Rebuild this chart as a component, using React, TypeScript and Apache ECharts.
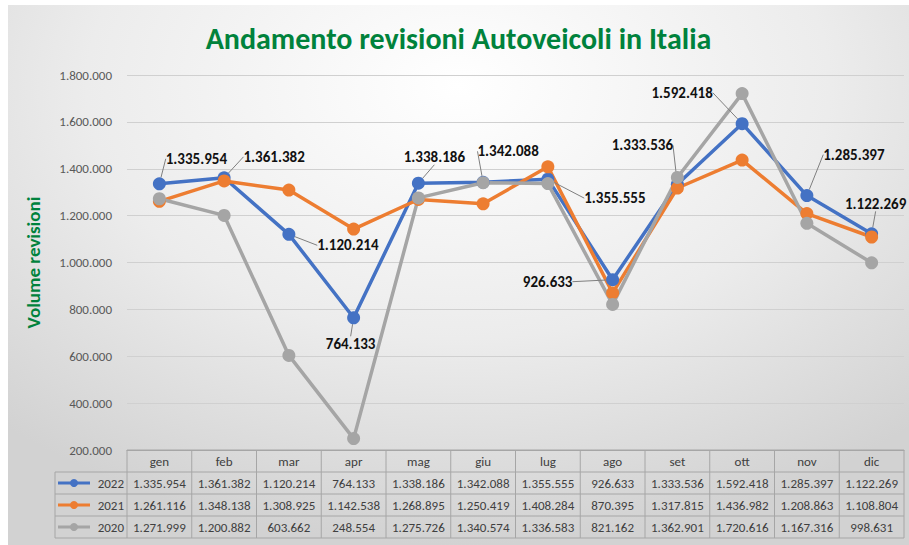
import React, { useEffect, useRef } from 'react';
import * as echarts from 'echarts';

const months = ['gen', 'feb', 'mar', 'apr', 'mag', 'giu', 'lug', 'ago', 'set', 'ott', 'nov', 'dic'];
const seriesNames = ['2022', '2021', '2020'];
const values2022 = [1335954, 1361382, 1120214, 764133, 1338186, 1342088, 1355555, 926633, 1333536, 1592418, 1285397, 1122269];
const values2021 = [1261116, 1348138, 1308925, 1142538, 1268895, 1250419, 1408284, 870395, 1317815, 1436982, 1208863, 1108804];
const values2020 = [1271999, 1200882, 603662, 248554, 1275726, 1340574, 1336583, 821162, 1362901, 1720616, 1167316, 998631];
const yMin = 200000;
const yMax = 1800000;
const yStep = 200000;

const titleText = 'Andamento revisioni Autoveicoli in Italia';
const yName = 'Volume revisioni';

// layout / style (not data)
const colors = ['#4472C4', '#ED7D31', '#A5A5A5'];
const green = '#00823C';
const FONT = 'Carlito, Lato, sans-serif';
const W = 901;
const H = 540;
const gridLeft = 119;
const gridRight = 5;
const gridTop = 70;
const gridBottom = 95;
const labelOffsets: [number, number][] = [
  [37, -6], [50, -2], [59, 30], [-3, 45], [16, -7], [25, -12],
  [67, 38], [-65, 21], [-35, -20], [-60, -12], [47, -22], [4, -11],
];

const fmt = (n: number) => String(n).replace(/\B(?=(\d{3})+(?!\d))/g, '.');

export default function App() {
  const ref = useRef<HTMLDivElement>(null);

  useEffect(() => {
    if (!ref.current) return;
    const chart = echarts.init(ref.current, null, { renderer: 'svg' });
    const allValues = [values2022, values2021, values2020];

    const plotBottom = H - gridBottom;
    const plotW = W - gridLeft - gridRight;
    const cw = plotW / months.length;
    const rowH = 22;
    const tableLeft = 47;
    const lineColor = '#a6a6a6';
    const textColor = '#404040';
    const graphics: any[] = [];

    for (let r = 0; r <= 4; r++) {
      const y = plotBottom + r * rowH;
      graphics.push({
        type: 'line',
        silent: true,
        shape: { x1: r === 0 ? gridLeft : tableLeft, y1: y, x2: W - gridRight, y2: y },
        style: { stroke: lineColor, lineWidth: 1 },
      });
    }
    graphics.push({
      type: 'line',
      silent: true,
      shape: { x1: tableLeft, y1: plotBottom + rowH, x2: tableLeft, y2: plotBottom + 4 * rowH },
      style: { stroke: lineColor, lineWidth: 1 },
    });
    for (let k = 0; k <= months.length; k++) {
      const x = gridLeft + k * cw;
      graphics.push({
        type: 'line',
        silent: true,
        shape: { x1: x, y1: plotBottom, x2: x, y2: plotBottom + 4 * rowH },
        style: { stroke: lineColor, lineWidth: 1 },
      });
    }
    seriesNames.forEach((name, si) => {
      const cy = plotBottom + rowH * (si + 1) + rowH / 2;
      graphics.push({
        type: 'line',
        silent: true,
        shape: { x1: tableLeft + 3, y1: cy, x2: tableLeft + 35, y2: cy },
        style: { stroke: colors[si], lineWidth: 3 },
      });
      graphics.push({
        type: 'circle',
        silent: true,
        shape: { cx: tableLeft + 19, cy, r: 4 },
        style: { fill: colors[si] },
      });
      graphics.push({
        type: 'text',
        silent: true,
        style: {
          text: name,
          x: gridLeft - 3,
          y: cy,
          align: 'right',
          verticalAlign: 'middle',
          fill: textColor,
          font: `13px ${FONT}`,
        },
      });
      allValues[si].forEach((v, i) => {
        graphics.push({
          type: 'text',
          silent: true,
          style: {
            text: fmt(v),
            x: gridLeft + (i + 0.5) * cw,
            y: cy,
            align: 'center',
            verticalAlign: 'middle',
            fill: textColor,
            font: `13px ${FONT}`,
          },
        });
      });
    });

    chart.setOption({
      animation: false,
      title: {
        text: titleText,
        left: 'center',
        top: 13,
        textStyle: { color: green, fontWeight: 'bold', fontSize: 30, fontFamily: FONT },
      },
      grid: { left: gridLeft, right: gridRight, top: gridTop, bottom: gridBottom },
      xAxis: {
        type: 'category',
        data: months,
        boundaryGap: true,
        axisLine: { show: true, lineStyle: { color: lineColor } },
        axisTick: { show: false },
        axisLabel: {
          margin: 0,
          lineHeight: rowH,
          color: textColor,
          fontSize: 13,
          fontFamily: FONT,
        },
      },
      yAxis: {
        type: 'value',
        min: yMin,
        max: yMax,
        interval: yStep,
        name: yName,
        nameLocation: 'middle',
        nameGap: 84,
        nameTextStyle: { color: green, fontWeight: 'bold', fontSize: 19, fontFamily: FONT },
        axisLine: { show: false },
        axisTick: { show: false },
        axisLabel: { color: '#595959', fontSize: 13, margin: 15, fontFamily: FONT, formatter: (v: number) => fmt(v) },
        splitLine: { lineStyle: { color: '#d0d0d0', width: 1 } },
      },
      series: seriesNames.map((name, si) => ({
        name,
        type: 'line',
        data: allValues[si],
        symbol: 'circle',
        symbolSize: 13,
        lineStyle: { color: colors[si], width: 3.5 },
        itemStyle: { color: colors[si] },
        label: si === 0
          ? {
              show: true,
              position: 'top',
              distance: 5,
              color: '#111',
              fontWeight: 'bold',
              fontSize: 15,
              fontFamily: FONT,
              formatter: (p: any) => fmt(p.value),
            }
          : { show: false },
        labelLine: si === 0 ? { show: true, lineStyle: { color: '#7f7f7f', width: 1 } } : undefined,
        labelLayout: si === 0
          ? (p: any) => ({ dx: labelOffsets[p.dataIndex][0], dy: labelOffsets[p.dataIndex][1] })
          : undefined,
      })),
      graphic: graphics,
    });

    return () => chart.dispose();
  }, []);

  return (
    <div style={{ position: 'fixed', left: 0, top: 0, width: 909, height: 545, background: '#fff' }}>
      <div
        ref={ref}
        style={{
          position: 'absolute',
          left: 8,
          top: 5,
          width: W,
          height: H,
          background: 'radial-gradient(ellipse 75% 85% at 50% 15%, #ffffff 0%, #ececec 55%, #d2d2d2 100%)',
        }}
      />
    </div>
  );
}
